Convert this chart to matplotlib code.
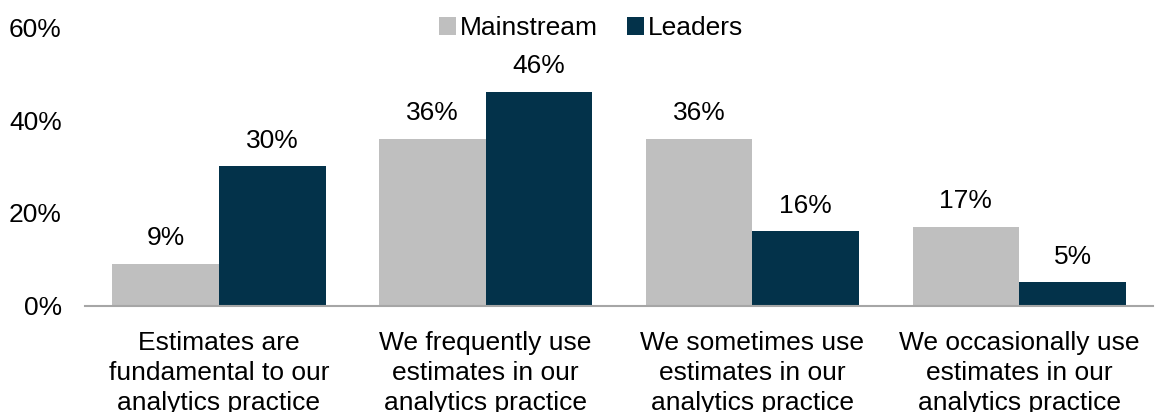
import numpy as np
import matplotlib.pyplot as plt
from matplotlib.ticker import PercentFormatter

plt.rcParams['font.family'] = ['Liberation Sans', 'DejaVu Sans']

# Datos
categorias = [
    "Estimates are\nfundamental to our\nanalytics practice",
    "We frequently use\nestimates in our\nanalytics practice",
    "We sometimes use\nestimates in our\nanalytics practice",
    "We occasionally use\nestimates in our\nanalytics practice",
]
mainstream = [9, 36, 36, 17]
leaders = [30, 46, 16, 5]

gris = "#BFBFBF"
azul = "#03324A"
tam = 19

fig, ax = plt.subplots(figsize=(11.55, 4.12), dpi=100)
fig.subplots_adjust(left=0.074, right=0.998, top=0.934, bottom=0.258)

x = np.arange(len(categorias))
ancho = 0.4

b1 = ax.bar(x - ancho / 2, mainstream, ancho, color=gris, label="Mainstream")
b2 = ax.bar(x + ancho / 2, leaders, ancho, color=azul, label="Leaders")

# Etiquetas de valor encima de cada barra
for barras in (b1, b2):
    ax.bar_label(barras, labels=[f"{int(v)}%" for v in barras.datavalues],
                 padding=10, fontsize=tam)

ax.set_ylim(0, 60)
ax.set_xlim(-0.5, len(categorias) - 0.5)
ax.set_yticks([0, 20, 40, 60])
ax.yaxis.set_major_formatter(PercentFormatter(decimals=0))
ax.set_xticks(x)
ax.set_xticklabels(categorias, fontsize=tam, linespacing=1.33)
ax.tick_params(axis='y', labelsize=tam, length=0, pad=17)
ax.tick_params(axis='x', length=0, pad=18)

for lado in ("top", "right", "left"):
    ax.spines[lado].set_visible(False)
ax.spines["bottom"].set_color("#A6A6A6")
ax.spines["bottom"].set_linewidth(1.5)

ax.legend(loc="upper center", bbox_to_anchor=(0.474, 1.125), ncol=2, frameon=False,
          fontsize=tam, handlelength=0.65, handleheight=0.65, handletextpad=0.15,
          columnspacing=1.1)

fig.savefig("out.png", dpi=100)
